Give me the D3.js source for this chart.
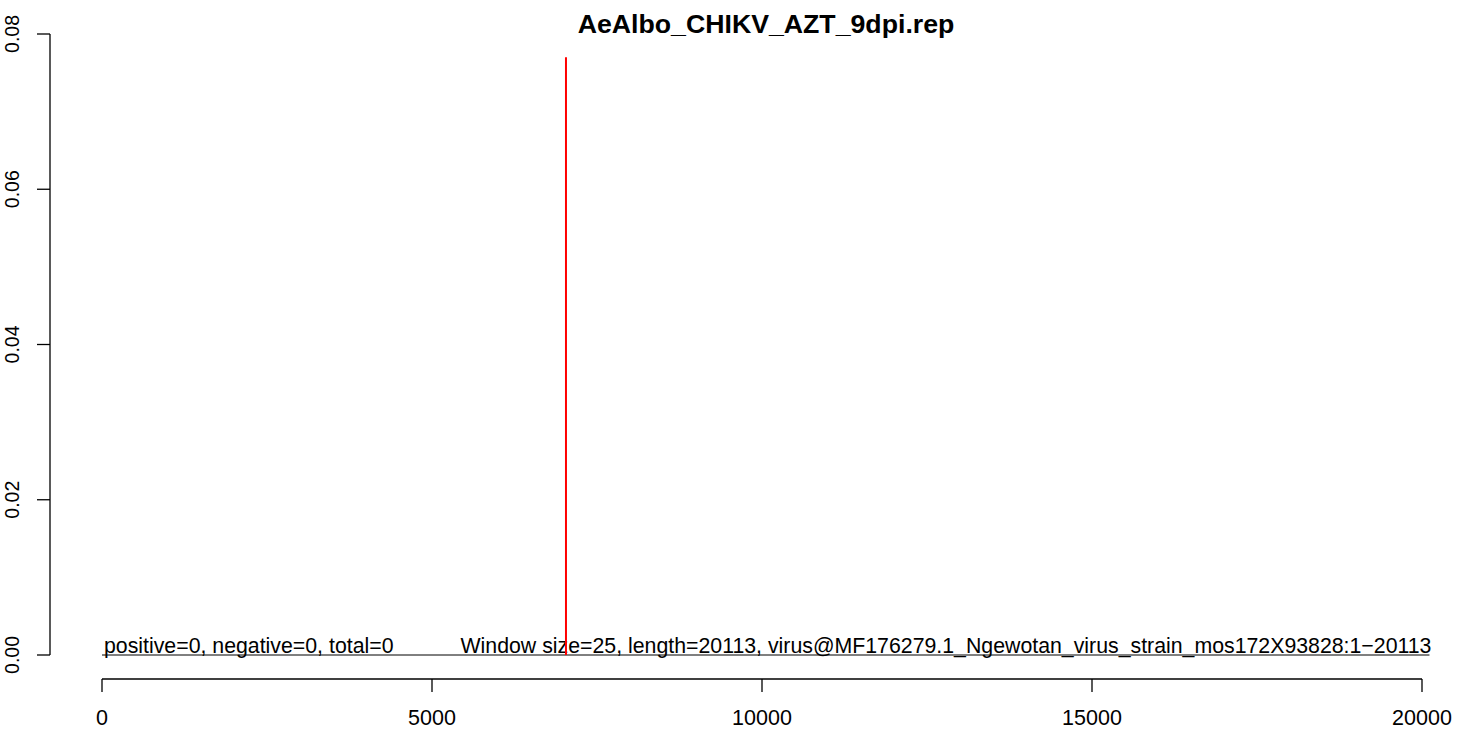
<!DOCTYPE html>
<html><head><meta charset="utf-8">
<script src="https://cdn.jsdelivr.net/npm/d3@7"></script>
<style>body{margin:0;background:#fff}svg{display:block}text{font-family:"Liberation Sans",Arial,sans-serif}</style>
</head><body>
<script>
const title = "AeAlbo_CHIKV_AZT_9dpi.rep";
const xTicks = [0, 5000, 10000, 15000, 20000];
const yTicks = [0, 0.02, 0.04, 0.06, 0.08];
const genomeLength = 20113;
const baselineX = [0, genomeLength];
const baselineY = [0, 0];
const peakPos = [7030];
const peakVal = [0.077];
const leftNote = "positive=0, negative=0, total=0";
const rightNote = "Window size=25, length=20113, virus@MF176279.1_Ngewotan_virus_strain_mos172X93828:1\u221220113";

const W = 1467, H = 730;
const svg = d3.select("body").append("svg").attr("width", W).attr("height", H);
const x = d3.scaleLinear().domain([0, 20000]).range([102, 1422]);
const y = d3.scaleLinear().domain([0, 0.08]).range([655, 34]);

// title
svg.append("text").attr("x", 766).attr("y", 33).attr("text-anchor", "middle")
  .attr("font-weight", "bold").attr("font-size", 26.7).text(title);

// y axis
const yAxis = svg.append("g");
yAxis.append("line").attr("x1", 50).attr("x2", 50).attr("y1", y(0)).attr("y2", y(0.08)).attr("stroke", "#000").attr("stroke-width", 1.3);
yAxis.selectAll("line.t").data(yTicks).join("line").attr("class", "t")
  .attr("x1", 37).attr("x2", 50).attr("y1", d => y(d)).attr("y2", d => y(d)).attr("stroke", "#000").attr("stroke-width", 1.3);
yAxis.selectAll("text").data(yTicks).join("text")
  .attr("transform", d => `translate(19,${y(d)}) rotate(-90)`)
  .attr("text-anchor", "middle").attr("font-size", 19.5).text(d => d.toFixed(2));

// x axis
const xAxis = svg.append("g");
xAxis.append("line").attr("x1", x(0)).attr("x2", x(20000)).attr("y1", 679).attr("y2", 679).attr("stroke", "#000").attr("stroke-width", 1.3);
xAxis.selectAll("line.t").data(xTicks).join("line").attr("class", "t")
  .attr("x1", d => x(d)).attr("x2", d => x(d)).attr("y1", 679).attr("y2", 692).attr("stroke", "#000").attr("stroke-width", 1.3);
xAxis.selectAll("text").data(xTicks).join("text")
  .attr("x", d => x(d)).attr("y", 725).attr("text-anchor", "middle").attr("font-size", 21.5).text(d => d);

// baseline
svg.append("path").datum(baselineX.map((d, i) => [d, baselineY[i]]))
  .attr("d", d3.line().x(d => x(d[0])).y(d => y(d[1])))
  .attr("stroke", "#000").attr("stroke-width", 1).attr("fill", "none");

// notes
svg.append("text").attr("x", x(0) + 2).attr("y", 653).attr("font-size", 21.3).text(leftNote);
svg.append("text").attr("x", x(genomeLength) + 2).attr("y", 653).attr("text-anchor", "end").attr("font-size", 21.3).text(rightNote);

// peak
svg.selectAll("line.peak").data(peakPos).join("line").attr("class", "peak")
  .attr("x1", d => x(d)).attr("x2", d => x(d)).attr("y1", y(0)).attr("y2", (d, i) => y(peakVal[i]))
  .attr("stroke", "#ff0000").attr("stroke-width", 2);
</script>
</body></html>
